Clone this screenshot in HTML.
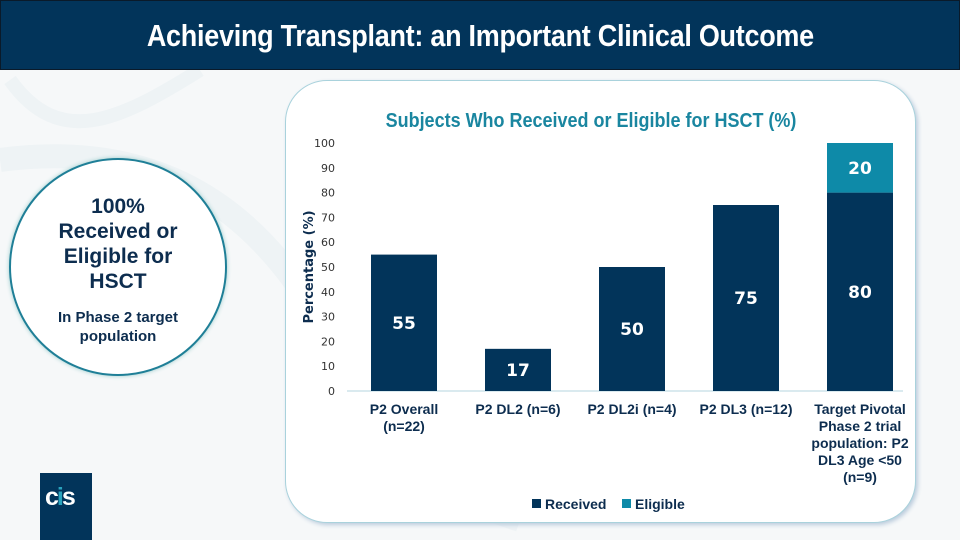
<!DOCTYPE html>
<html><head><meta charset="utf-8">
<style>
body{margin:0;width:960px;height:540px;overflow:hidden;background:#f6f8f9;font-family:"Liberation Sans",sans-serif;position:relative}
#title{position:absolute;left:0;top:0;width:958px;height:68px;background:#02345a;border:1px solid #0a1a2a;color:#fff;text-align:center;line-height:70px}
#title span{display:inline-block;font-size:31px;font-weight:bold;transform:scaleX(0.87);white-space:nowrap;letter-spacing:-0.3px}
#circle{position:absolute;left:9px;top:158px;width:214px;height:214px;border-radius:50%;border:2px solid #1f7f97;background:#fff;box-shadow:0 0 4px #9cc;text-align:center;color:#0d2d4f;font-weight:bold}
#panel{position:absolute;left:285px;top:80px;width:629px;height:441px;border-radius:42px;border:1.5px solid #a9d2dc;background:#fff;box-shadow:2px 2px 4px #bcd}
#logo{position:absolute;left:40px;top:473px;width:52px;height:67px;background:#02345a}
</style></head><body>
<svg width="960" height="540" style="position:absolute;left:0;top:0">
<path d="M0,160 C150,140 250,200 320,320 S400,480 520,520" stroke="#eef3f5" stroke-width="24" fill="none"/>
<path d="M10,80 C60,150 120,120 200,70" stroke="#eef3f5" stroke-width="14" fill="none"/>
</svg>
<div id="title"><span>Achieving Transplant: an Important Clinical Outcome</span></div>
<div id="circle">
<div style="margin-top:34px;font-size:21px;line-height:25px">100%<br>Received or<br>Eligible for<br>HSCT</div>
<div style="margin-top:14px;font-size:15px;line-height:19px">In Phase 2 target<br>population</div>
</div>
<div id="panel"></div>
<div id="logo">
<div style="color:#fff;font-weight:bold;font-size:25px;margin:10px 0 0 5px;letter-spacing:-2px">c<span style="color:#2aa3bd">i</span>s</div></div>
<svg id="chart" width="960" height="540" style="position:absolute;left:0;top:0"></svg>
<script>
const categories=[["P2 Overall","(n=22)"],["P2 DL2 (n=6)"],["P2 DL2i (n=4)"],["P2 DL3 (n=12)"],["Target Pivotal","Phase 2 trial","population: P2","DL3 Age <50","(n=9)"]];
const received=[55,17,50,75,80];
const eligible=[0,0,0,0,20];
const yTicks=[0,10,20,30,40,50,60,70,80,90,100];
const svg=document.getElementById('chart');const NS='http://www.w3.org/2000/svg';
function y(v){return 391-v*2.48;}
function bandX(i){return 347+i*114;}
function mk(t,a,p){const e=document.createElementNS(NS,t);for(const k in a)e.setAttribute(k,a[k]);(p||svg).appendChild(e);return e;}
const t=mk('text',{transform:'translate(591,127) scale(0.9,1)','text-anchor':'middle','font-size':20,'font-weight':'bold',fill:'#1a86a0','font-family':'Liberation Sans'});t.textContent='Subjects Who Received or Eligible for HSCT (%)';


yTicks.forEach(v=>{const e=mk('text',{x:335,y:y(v)+4,'text-anchor':'end','font-size':11,fill:'#333','font-family':'DejaVu Sans'});e.textContent=v;

});
const yt=mk('text',{transform:'translate(313,267) rotate(-90)','text-anchor':'middle','font-size':13,'font-weight':'bold',fill:'#0d2d4f','font-family':'DejaVu Sans'});yt.textContent='Percentage (%)';


const ax=mk('line',{x1:347,x2:903,y1:391,y2:391,stroke:'#cde3ea','stroke-width':1.5});


categories.forEach((c,i)=>{const cx=bandX(i)+57,x0=cx-33,w=66;
const r=mk('rect',{x:x0,y:y(received[i]),width:w,height:y(0)-y(received[i]),fill:'#02345a'});


const lr=mk('text',{x:cx,y:(y(received[i])+y(0))/2+6,'text-anchor':'middle','font-size':17,'font-weight':'bold',fill:'#fff','font-family':'DejaVu Sans'});lr.textContent=received[i];


if(eligible[i]>0){const top=received[i]+eligible[i];
const e=mk('rect',{x:x0,y:y(top),width:w,height:y(received[i])-y(top),fill:'#0e8aa8'});


const le=mk('text',{x:cx,y:(y(top)+y(received[i]))/2+6,'text-anchor':'middle','font-size':17,'font-weight':'bold',fill:'#fff','font-family':'DejaVu Sans'});le.textContent=eligible[i];

}
c.forEach((s,j)=>{const l=mk('text',{x:cx,y:414+j*17,'text-anchor':'middle','font-size':14,'font-weight':'bold',fill:'#0d2d4f','font-family':'Liberation Sans'});l.textContent=s;

});});
[['Received','#02345a',532],['Eligible','#0e8aa8',622]].forEach(([n,c,x])=>{
const s=mk('rect',{x:x,y:499,width:9,height:9,fill:c});


const l=mk('text',{x:x+13,y:509,'font-size':14,'font-weight':'bold',fill:'#0d2d4f','font-family':'Liberation Sans'});l.textContent=n;

});
</script>
</body></html>
